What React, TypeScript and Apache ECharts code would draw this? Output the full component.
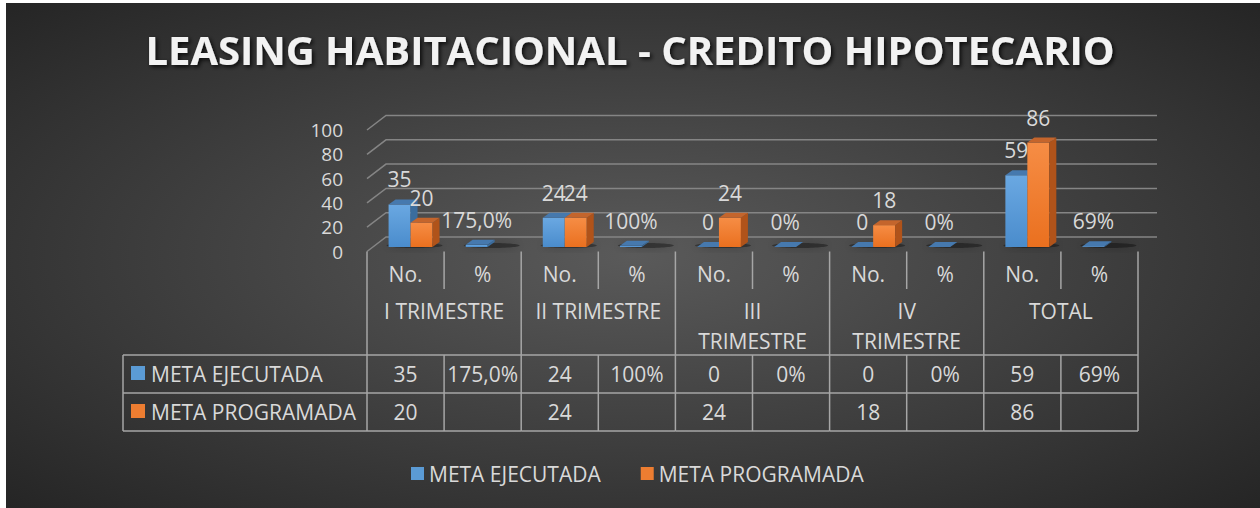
import React, { useEffect, useRef } from 'react';
import * as echarts from 'echarts';

const chartTitle = 'LEASING HABITACIONAL - CREDITO HIPOTECARIO';
const categories = ['No.', '%', 'No.', '%', 'No.', '%', 'No.', '%', 'No.', '%'];
const groups = ['I TRIMESTRE', 'II TRIMESTRE', 'III\nTRIMESTRE', 'IV\nTRIMESTRE', 'TOTAL'];
const seriesNames = ['META EJECUTADA', 'META PROGRAMADA'];
const ejecutada = [35, 1.75, 24, 1.0, 0, 0, 0, 0, 59, 0.69];
const ejecutadaText = ['35', '175,0%', '24', '100%', '0', '0%', '0', '0%', '59', '69%'];
const programada: (number | null)[] = [20, null, 24, null, 24, null, 18, null, 86, null];
const programadaText = ['20', '', '24', '', '24', '', '18', '', '86', ''];
const yTicks = [0, 20, 40, 60, 80, 100];

const FONT = "'Open Sans', sans-serif";
const FS = 21;
const TXT = '#d9d9d9';
const LINE = '#a6a6a6';
const GRIDLINE = '#858585';
const WALL_DX = 19;
const WALL_DY = -14.5;
const BAR_DX = 5;
const BAR_DY = -4.5;
const DEPTH_DX = 7;
const DEPTH_DY = -5;
const HEAD_SPLIT = 289;
const ROW_TOP = 355;
const ROW_MID = 393;
const ROW_BOTTOM = 431;
const TABLE_LEFT = 123;

const BLUE = {
  front: new echarts.graphic.LinearGradient(0, 0, 0, 1, [
    { offset: 0, color: '#6aa8e2' },
    { offset: 1, color: '#4a8ccc' },
  ]),
  side: '#3b6d9e',
  top: '#4679ae',
  solid: '#5b9bd5',
};
const ORANGE = {
  front: new echarts.graphic.LinearGradient(0, 0, 0, 1, [
    { offset: 0, color: '#f68d45' },
    { offset: 1, color: '#ea701f' },
  ]),
  side: '#b0531a',
  top: '#c4652c',
  solid: '#ed7d31',
};

function frameItem(params: any, api: any) {
  const v = api.value(1);
  const p0 = api.coord([0, v]);
  const pn = api.coord([categories.length - 1, v]);
  const bw = api.size([1, 0])[0];
  const xl = p0[0] - bw / 2;
  const xr = pn[0] + bw / 2;
  const y = p0[1];
  return {
    type: 'polyline',
    shape: {
      points: [
        [xl, y],
        [xl + WALL_DX, y + WALL_DY],
        [xr + WALL_DX, y + WALL_DY],
      ],
    },
    style: { stroke: GRIDLINE, lineWidth: 1.5, fill: null },
  };
}

function tableItem(params: any, api: any) {
  const g = params.dataIndex;
  const i = api.value(0);
  const c = api.coord([i, 0]);
  const c2 = api.coord([i + 1, 0]);
  const bw = api.size([1, 0])[0];
  const left = c[0] - bw / 2;
  const mid = left + bw;
  const right = left + 2 * bw;
  const top = c[1];
  const children: any[] = [];
  // soft floor shadows under each category
  [c[0], c2[0]].forEach((cx) => {
    children.push({
      type: 'ellipse',
      shape: { cx: cx + 9, cy: top - 6, rx: 28, ry: 2.5 },
      style: { fill: 'rgba(10,10,10,0.35)', shadowBlur: 10, shadowColor: 'rgba(0,0,0,0.75)' },
    });
  });
  const line = (x1: number, y1: number, x2: number, y2: number) =>
    children.push({
      type: 'line',
      shape: { x1, y1, x2, y2 },
      style: { stroke: LINE, lineWidth: 1.5 },
    });
  line(left, top, left, ROW_BOTTOM);
  line(mid, top, mid, HEAD_SPLIT);
  line(mid, ROW_TOP, mid, ROW_BOTTOM);
  if (g === groups.length - 1) line(right, top, right, ROW_BOTTOM);
  [ROW_TOP, ROW_MID, ROW_BOTTOM].forEach((y) => line(g === 0 ? TABLE_LEFT : left, y, right, y));
  const txt = (x: number, y: number, text: string, align = 'center') =>
    children.push({
      type: 'text',
      x,
      y,
      style: {
        text,
        fill: TXT,
        font: `${FS}px ${FONT}`,
        align,
        verticalAlign: 'middle',
      },
    });
  if (g === 0) {
    line(TABLE_LEFT, ROW_TOP, TABLE_LEFT, ROW_BOTTOM);
    children.push({ type: 'rect', shape: { x: 131, y: 366, width: 14, height: 14 }, style: { fill: BLUE.solid } });
    children.push({ type: 'rect', shape: { x: 131, y: 404, width: 14, height: 14 }, style: { fill: ORANGE.solid } });
    txt(151, (ROW_TOP + ROW_MID) / 2, seriesNames[0], 'left');
    txt(151, (ROW_MID + ROW_BOTTOM) / 2, seriesNames[1], 'left');
  }
  children.push({
    type: 'text',
    x: mid,
    y: 296,
    style: {
      text: groups[g],
      fill: TXT,
      font: `${FS}px ${FONT}`,
      align: 'center',
      verticalAlign: 'top',
      lineHeight: 30,
    },
  });
  [i, i + 1].forEach((k, j) => {
    const cx = left + bw / 2 + j * bw;
    txt(cx, (ROW_TOP + ROW_MID) / 2, ejecutadaText[k]);
    if (programadaText[k]) txt(cx, (ROW_MID + ROW_BOTTOM) / 2, programadaText[k]);
  });
  return { type: 'group', children };
}

function makeBarItem(s: number, texts: string[], colors: any) {
  return (params: any, api: any) => {
    const i = api.value(0);
    const v = api.value(1);
    const pTop = api.coord([i, v]);
    const pBase = api.coord([i, 0]);
    const bw = api.size([1, 0])[0];
    const w = bw * 0.285;
    const x = pTop[0] + BAR_DX - w + s * w;
    const yT = pTop[1] + BAR_DY;
    const yB = pBase[1] + BAR_DY;
    const children: any[] = [];
    if (yB - yT > 0.3) {
      children.push({
        type: 'rect',
        shape: { x, y: yT, width: w, height: yB - yT },
        style: { fill: colors.front },
      });
      children.push({
        type: 'polygon',
        shape: {
          points: [
            [x + w, yT],
            [x + w + DEPTH_DX, yT + DEPTH_DY],
            [x + w + DEPTH_DX, yB + DEPTH_DY],
            [x + w, yB],
          ],
        },
        style: { fill: colors.side },
      });
    }
    children.push({
      type: 'polygon',
      shape: {
        points: [
          [x, yT],
          [x + DEPTH_DX, yT + DEPTH_DY],
          [x + w + DEPTH_DX, yT + DEPTH_DY],
          [x + w, yT],
        ],
      },
      style: { fill: colors.top },
    });
    children.push({
      type: 'text',
      x: x + w / 2,
      y: yT - 25,
      style: {
        text: texts[i],
        fill: TXT,
        font: `${FS}px ${FONT}`,
        align: 'center',
        verticalAlign: 'middle',
      },
    });
    return { type: 'group', children };
  };
}

export default function App() {
  const ref = useRef<HTMLDivElement>(null);
  useEffect(() => {
    document.body.style.margin = '0';
    const chart = echarts.init(ref.current!, undefined, { renderer: 'svg' });
    const blueData = ejecutada.map((v, i) => [i, v]);
    const orangeData = programada
      .map((v, i) => (v === null ? null : [i, v]))
      .filter((d) => d !== null);
    chart.setOption({
      animation: false,
      backgroundColor: '#ffffff',
      graphic: [
        {
          type: 'rect',
          z: -10,
          shape: { x: 6, y: 3, width: 1254, height: 505 },
          style: {
            fill: new echarts.graphic.RadialGradient(0.5, 0.5, 0.72, [
              { offset: 0, color: '#5a5a5a' },
              { offset: 1, color: '#242424' },
            ]),
          },
        },
      ],
      title: {
        text: chartTitle,
        left: 'center',
        top: 24,
        textStyle: {
          fontFamily: FONT,
          fontWeight: 'bold',
          fontSize: 40,
          color: '#f2f2f2',
          textShadowColor: 'rgba(0,0,0,0.8)',
          textShadowBlur: 4,
          textShadowOffsetX: 2,
          textShadowOffsetY: 2,
        },
      },
      legend: {
        data: seriesNames,
        left: 406,
        top: 458,
        icon: 'rect',
        itemWidth: 13,
        itemHeight: 13,
        itemGap: 40,
        textStyle: { fontFamily: FONT, fontSize: FS, color: TXT },
      },
      grid: { left: 367, right: 122, top: 130, bottom: 256.5 },
      xAxis: {
        type: 'category',
        data: categories,
        axisLine: { show: false },
        axisTick: { show: false },
        axisLabel: { interval: 0, margin: 12, fontFamily: FONT, fontSize: FS, color: TXT },
      },
      yAxis: {
        type: 'value',
        min: 0,
        max: 100,
        interval: 20,
        axisLine: { show: false },
        axisTick: { show: false },
        splitLine: { show: false },
        axisLabel: { margin: 24, fontFamily: FONT, fontSize: 19, lineHeight: 20, color: TXT },
      },
      series: [
        {
          type: 'custom',
          name: 'frame',
          z: 1,
          silent: true,
          clip: false,
          data: yTicks.map((v) => [0, v]),
          renderItem: frameItem,
        },
        {
          type: 'custom',
          name: 'table',
          z: 1,
          silent: true,
          clip: false,
          data: groups.map((_, g) => [2 * g, 0]),
          renderItem: tableItem,
        },
        {
          type: 'custom',
          name: seriesNames[0],
          z: 3,
          clip: false,
          itemStyle: { color: BLUE.solid },
          data: blueData,
          renderItem: makeBarItem(0, ejecutadaText, BLUE),
        },
        {
          type: 'custom',
          name: seriesNames[1],
          z: 3,
          clip: false,
          itemStyle: { color: ORANGE.solid },
          data: orangeData,
          renderItem: makeBarItem(1, programadaText, ORANGE),
        },
      ],
    });
    return () => chart.dispose();
  }, []);
  return (
    <div
      ref={ref}
      style={{ position: 'absolute', left: 0, top: 0, width: 1260, height: 508 }}
    />
  );
}
